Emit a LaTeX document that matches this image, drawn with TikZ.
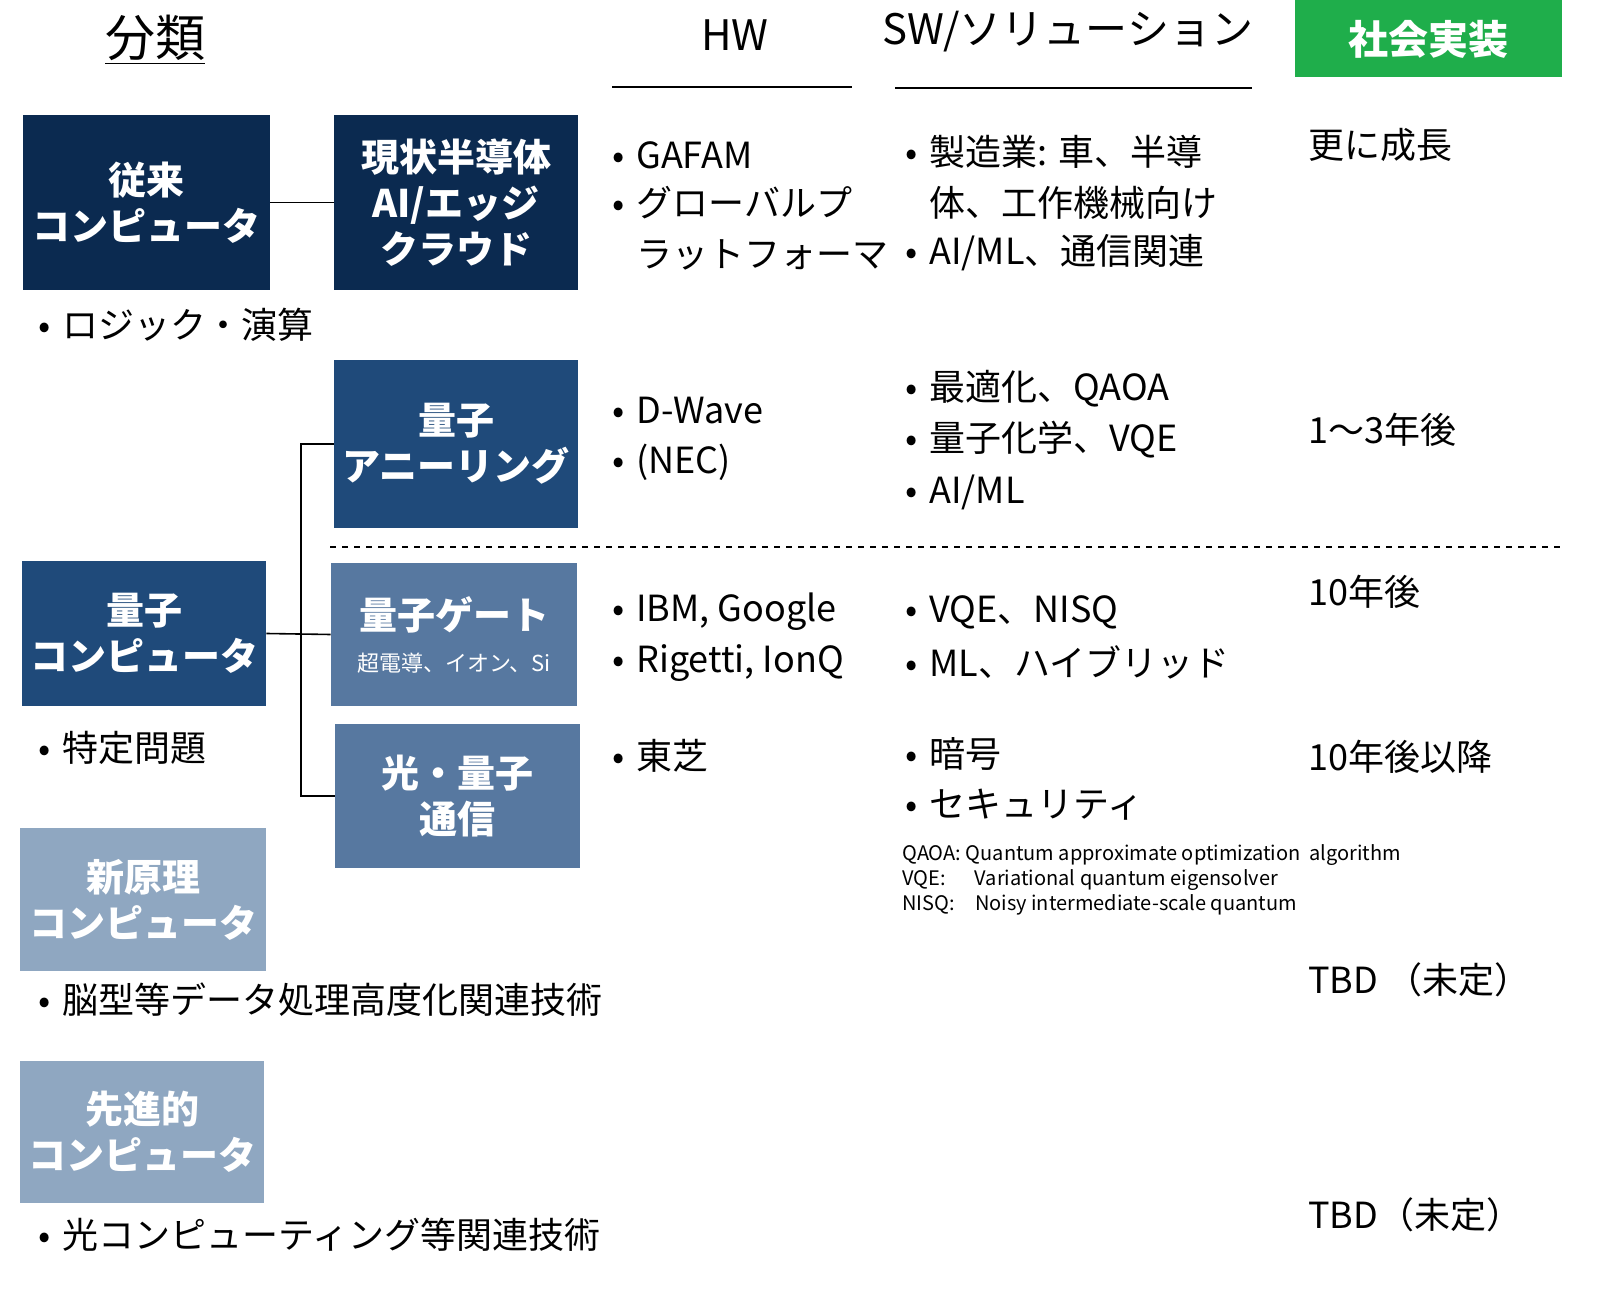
\documentclass[tikz,border=0pt]{standalone}
\usepackage{fontspec}
\setmainfont{Noto Sans CJK JP}
\usetikzlibrary{positioning}
\definecolor{navy}{HTML}{0B2A50}
\definecolor{midblue}{HTML}{1F4A7A}
\definecolor{lightblue}{HTML}{5778A0}
\definecolor{paleblue}{HTML}{8FA7C1}
\definecolor{socgreen}{HTML}{1FAE4B}
\newcommand\bul{\makebox[12pt][l]{•}}

\begin{document}
\begin{tikzpicture}[%
	x=0.5pt, y=-0.5pt,
	box/.style={inner sep=0pt, text=white, font=\bfseries\fontsize{19}{23}\selectfont, align=center},
	txt/.style={anchor=west, inner sep=0pt, font=\fontsize{18}{20}\selectfont},
	head/.style={inner sep=0pt, font=\fontsize{21}{24}\selectfont},
	note/.style={anchor=west, inner sep=0pt, font=\fontsize{10}{12.4}\selectfont, align=left},
	link/.style={draw, line width=0.8pt}
]
% headings
\node[inner sep=0pt, font=\fontsize{25}{28}\selectfont] (bunrui) at (155,40) {\underline{分類}};
\node[head] (hw) at (735,35) {HW};
\node[head] (sw) at (1068,32) {SW/ソリューション};
\draw[line width=1pt] (612,87) -- (852,87);
\draw[line width=1pt] (895,88) -- (1252,88);
\fill[socgreen] (1295,0) rectangle (1562,77);
\node[box, font=\bfseries\fontsize{20}{24}\selectfont] (shakai) at (1428,39) {社会実装};

% category boxes
\node[box, fill=navy, minimum width=123.5pt, minimum height=87.5pt] (juurai) at (146.5,202.5) {従来\\コンピュータ};
\node[box, fill=navy, minimum width=122pt, minimum height=87.5pt] (genjo) at (456,202.5) {現状半導体\\AI/エッジ\\クラウド};
\node[box, fill=midblue, minimum width=122pt, minimum height=84pt] (anneal) at (456,444) {量子\\アニーリング};
\node[box, fill=midblue, minimum width=122pt, minimum height=72.5pt] (qcomp) at (144,633.5) {量子\\コンピュータ};
\node[box, fill=lightblue, minimum width=123pt, minimum height=71.5pt] (gate) at (454,634.5) {量子ゲート\\[-2pt]{\mdseries\fontsize{11}{13}\selectfont 超電導、イオン、Si}};
\node[box, fill=lightblue, minimum width=122.5pt, minimum height=72pt] (hikari) at (457.5,796) {光・量子\\通信};
\node[box, fill=paleblue, minimum width=123pt, minimum height=71.5pt] (shingenri) at (143,899.5) {新原理\\コンピュータ};
\node[box, fill=paleblue, minimum width=122pt, minimum height=71pt] (senshin) at (142,1132) {先進的\\コンピュータ};

% connectors
\coordinate (fork) at (301,634);
\path[link] (juurai) -- (genjo);
\path[link] (qcomp.east) -- (gate.west);
\path[link] (fork) |- (anneal.west);
\path[link] (fork) |- (hikari.west);
\draw[dashed, line width=0.8pt] (330,547) -- (1565,547);

% notes under boxes
\node[txt] (logic) at (38,325) {\bul ロジック・演算};
\node[txt] (tokutei) at (38,748) {\bul 特定問題};
\node[txt] (nougata) at (38,1000) {\bul 脳型等データ処理高度化関連技術};
\node[txt] (hikaricomp) at (38,1235) {\bul 光コンピューティング等関連技術};

% HW column
\node[txt] (gafam) at (612,155) {\bul GAFAM};
\node[txt] (global) at (612,203) {\bul グローバルプ};
\node[txt] (platform) at (636,255) {ラットフォーマ};
\node[txt] (dwave) at (612,411) {\bul D-Wave};
\node[txt] (nec) at (612,462) {\bul (NEC)};
\node[txt] (ibm) at (612,612) {\bul IBM, Google};
\node[txt] (rigetti) at (612,663) {\bul Rigetti, IonQ};
\node[txt] (toshiba) at (612,756) {\bul 東芝};

% SW column
\node[txt] (seizo) at (905,152) {\bul 製造業: 車、半導};
\node[txt] (kosaku) at (929,203) {体、工作機械向け};
\node[txt] (aiml1) at (905,253) {\bul AI/ML、通信関連};
\node[txt] (saiteki) at (905,389) {\bul 最適化、QAOA};
\node[txt] (kagaku) at (905,440) {\bul 量子化学、VQE};
\node[txt] (aiml2) at (905,492) {\bul AI/ML};
\node[txt] (vqe) at (905,612) {\bul VQE、NISQ};
\node[txt] (hybrid) at (905,662) {\bul ML、ハイブリッド};
\node[txt] (ango) at (905,754) {\bul 暗号};
\node[txt] (security) at (905,805) {\bul セキュリティ};
\node[note] (abbr) at (902,880) {QAOA: Quantum approximate optimization\ \ algorithm\\VQE:\quad\ \ Variational quantum eigensolver\\NISQ:\quad Noisy intermediate-scale quantum};

% social column
\node[txt] (seicho) at (1308,145) {更に成長};
\node[txt] (y13) at (1308,430) {1～3年後};
\node[txt] (y10) at (1308,592) {10年後};
\node[txt] (y10later) at (1308,757) {10年後以降};
\node[txt] (tbd1) at (1308,980) {TBD （未定）};
\node[txt] (tbd2) at (1308,1215) {TBD（未定）};

\pgfresetboundingbox
\useasboundingbox (0,0) rectangle (1600,1293);
\end{tikzpicture}
\end{document}
